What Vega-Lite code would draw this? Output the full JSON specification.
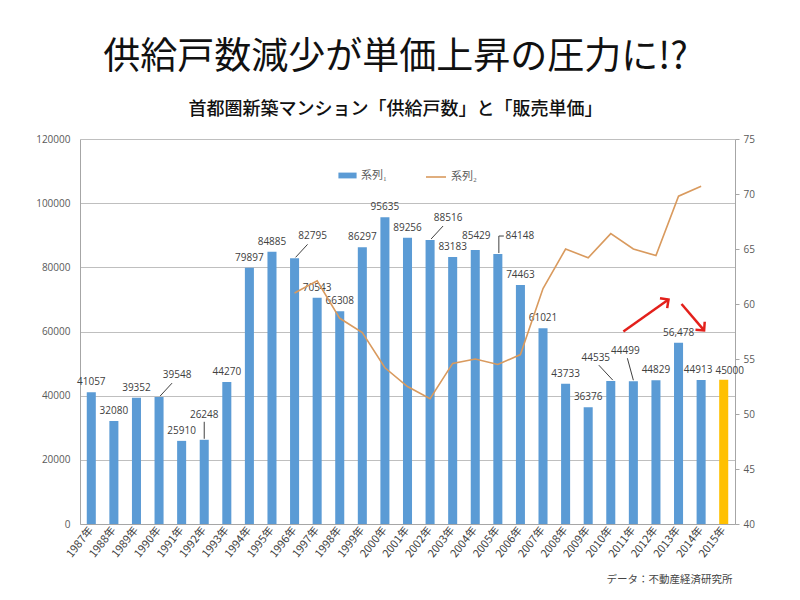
{
  "$schema": "https://vega.github.io/schema/vega-lite/v6.json",
  "width": 655,
  "height": 385,
  "autosize": "none",
  "padding": {"left": 80, "top": 139, "right": 65, "bottom": 76},
  "background": "white",
  "title": {
    "text": "供給戸数減少が単価上昇の圧力に!?",
    "subtitle": "首都圏新築マンション「供給戸数」と「販売単価」",
    "anchor": "middle",
    "frame": "group",
    "dx": -12,
    "offset": 14,
    "font": "Noto Sans CJK JP",
    "fontSize": 37,
    "fontWeight": "normal",
    "color": "#111111",
    "subtitleFont": "Noto Sans CJK JP",
    "subtitleFontSize": 18,
    "subtitleFontWeight": 500,
    "subtitleColor": "#111111",
    "subtitlePadding": 24
  },
  "config": {
    "view": {"stroke": null},
    "font": "Open Sans",
    "text": {"font": "Open Sans", "fontSize": 10, "color": "#404040"}
  },
  "datasets": {
    "supply": [
      {"year": "1987年", "units": 41057, "label": "41057", "price": null},
      {"year": "1988年", "units": 32080, "label": "32080", "price": null},
      {"year": "1989年", "units": 39352, "label": "39352", "price": null},
      {"year": "1990年", "units": 39548, "label": "39548", "price": null},
      {"year": "1991年", "units": 25910, "label": "25910", "price": null},
      {"year": "1992年", "units": 26248, "label": "26248", "price": null},
      {"year": "1993年", "units": 44270, "label": "44270", "price": null},
      {"year": "1994年", "units": 79897, "label": "79897", "price": null},
      {"year": "1995年", "units": 84885, "label": "84885", "price": null},
      {"year": "1996年", "units": 82795, "label": "82795", "price": 61.0},
      {"year": "1997年", "units": 70543, "label": "70543", "price": 62.1},
      {"year": "1998年", "units": 66308, "label": "66308", "price": 58.7},
      {"year": "1999年", "units": 86297, "label": "86297", "price": 57.4},
      {"year": "2000年", "units": 95635, "label": "95635", "price": 54.2},
      {"year": "2001年", "units": 89256, "label": "89256", "price": 52.5},
      {"year": "2002年", "units": 88516, "label": "88516", "price": 51.4},
      {"year": "2003年", "units": 83183, "label": "83183", "price": 54.6},
      {"year": "2004年", "units": 85429, "label": "85429", "price": 55.0},
      {"year": "2005年", "units": 84148, "label": "84148", "price": 54.5},
      {"year": "2006年", "units": 74463, "label": "74463", "price": 55.4},
      {"year": "2007年", "units": 61021, "label": "61021", "price": 61.4},
      {"year": "2008年", "units": 43733, "label": "43733", "price": 65.0},
      {"year": "2009年", "units": 36376, "label": "36376", "price": 64.2},
      {"year": "2010年", "units": 44535, "label": "44535", "price": 66.4},
      {"year": "2011年", "units": 44499, "label": "44499", "price": 65.0},
      {"year": "2012年", "units": 44829, "label": "44829", "price": 64.4},
      {"year": "2013年", "units": 56478, "label": "56,478", "price": 69.8},
      {"year": "2014年", "units": 44913, "label": "44913", "price": 70.7},
      {"year": "2015年", "units": 45000, "label": "45000", "price": null}
    ],
    "arrows": [
      {"name": "up", "year": "2011年", "price": 57.5, "toYear": "2013年", "toPrice": 60.4},
      {"name": "down", "year": "2013年", "price": 60.0, "toYear": "2014年", "toPrice": 57.6}
    ]
  },
  "layer": [
    {
      "data": {"name": "supply"},
      "encoding": {
        "x": {
          "field": "year",
          "type": "nominal",
          "scale": {"paddingInner": 0.6, "paddingOuter": 0.3},
          "axis": {
            "title": "データ：不動産経済研究所",
            "titleFont": "Noto Sans CJK JP",
            "titleFontSize": 10.5,
            "titleFontWeight": "normal",
            "titleColor": "#444444",
            "titleAnchor": "end",
            "titleAlign": "right",
            "titleBaseline": "middle",
            "titleX": 652,
            "titleY": 55,
            "labelAngle": -52,
            "labelAlign": "right",
            "labelBaseline": "middle",
            "labelFont": "Noto Sans CJK JP",
            "labelFontSize": 11,
            "labelColor": "#404040",
            "labelPadding": 4,
            "ticks": false,
            "domainColor": "#a6a6a6",
            "grid": false
          }
        },
        "y": {
          "field": "units",
          "type": "quantitative",
          "scale": {"domain": [0, 120000]},
          "axis": {
            "title": null,
            "values": [0, 20000, 40000, 60000, 80000, 100000, 120000],
            "format": "d",
            "labelFont": "Open Sans",
            "labelFontSize": 10,
            "labelColor": "#595959",
            "labelPadding": 10,
            "ticks": false,
            "domainColor": "#a6a6a6",
            "gridColor": "#bfbfbf",
            "grid": true
          }
        }
      },
      "layer": [
        {
          "mark": {"type": "bar"},
          "encoding": {
            "color": {
              "condition": {"test": "datum.year === '2015年'", "value": "#FFC000"},
              "datum": "系列₁",
              "scale": {"range": ["#5B9BD5"]},
              "legend": {
                "orient": "none",
                "legendX": 258,
                "legendY": 27,
                "title": null,
                "symbolType": "M-1,-0.32H1V0.32H-1Z",
                "symbolSize": 330,
                "symbolStrokeWidth": 0,
                "labelFont": "Noto Sans CJK JP",
                "labelFontSize": 11,
                "labelColor": "#595959"
              }
            }
          }
        },
        {
          "transform": [{"filter": {"not": {"field": "year", "oneOf": ["1990年", "1992年", "1996年", "2002年", "2004年", "2005年", "2010年", "2011年", "2014年", "2015年"]}}}],
          "mark": {"type": "text", "dy": -10, "baseline": "middle"},
          "encoding": {"text": {"field": "label"}}
        },
        {
          "transform": [{"filter": {"field": "year", "equal": "2004年"}}],
          "mark": {"type": "text", "dx": 1, "dy": -14, "baseline": "middle"},
          "encoding": {"text": {"field": "label"}}
        },
        {
          "transform": [{"filter": {"field": "year", "oneOf": ["1990年", "1996年", "2002年"]}}],
          "mark": {"type": "text", "dx": 18, "dy": -22, "baseline": "middle"},
          "encoding": {"text": {"field": "label"}}
        },
        {
          "transform": [{"filter": {"field": "year", "oneOf": ["1990年", "1996年", "2002年"]}}],
          "mark": {"type": "rule", "color": "#404040", "strokeWidth": 1, "xOffset": 1, "yOffset": -1, "x2Offset": 13, "y2Offset": -14},
          "encoding": {"x2": {"field": "year"}, "y2": {"field": "units"}}
        },
        {
          "transform": [{"filter": {"field": "year", "equal": "1992年"}}],
          "mark": {"type": "text", "dy": -25, "baseline": "middle"},
          "encoding": {"text": {"field": "label"}}
        },
        {
          "transform": [{"filter": {"field": "year", "equal": "1992年"}}],
          "mark": {"type": "rule", "color": "#404040", "strokeWidth": 1, "yOffset": -1, "y2Offset": -18},
          "encoding": {"y2": {"field": "units"}}
        },
        {
          "transform": [{"filter": {"field": "year", "equal": "2005年"}}],
          "mark": {"type": "text", "dx": 22, "dy": -18, "baseline": "middle"},
          "encoding": {"text": {"field": "label"}}
        },
        {
          "transform": [{"filter": {"field": "year", "equal": "2005年"}}],
          "mark": {"type": "rule", "color": "#404040", "strokeWidth": 1, "xOffset": 1, "yOffset": -1, "x2Offset": 1, "y2Offset": -18},
          "encoding": {"x2": {"field": "year"}, "y2": {"field": "units"}}
        },
        {
          "transform": [{"filter": {"field": "year", "equal": "2005年"}}],
          "mark": {"type": "rule", "color": "#404040", "strokeWidth": 1, "xOffset": 1, "yOffset": -18, "x2Offset": 6, "y2Offset": -18},
          "encoding": {"x2": {"field": "year"}, "y2": {"field": "units"}}
        },
        {
          "transform": [{"filter": {"field": "year", "equal": "2010年"}}],
          "mark": {"type": "text", "dx": -15, "dy": -23, "baseline": "middle"},
          "encoding": {"text": {"field": "label"}}
        },
        {
          "transform": [{"filter": {"field": "year", "equal": "2010年"}}],
          "mark": {"type": "rule", "color": "#404040", "strokeWidth": 1, "xOffset": 2, "yOffset": -1, "x2Offset": -12, "y2Offset": -16},
          "encoding": {"x2": {"field": "year"}, "y2": {"field": "units"}}
        },
        {
          "transform": [{"filter": {"field": "year", "equal": "2011年"}}],
          "mark": {"type": "text", "dx": -8, "dy": -30, "baseline": "middle"},
          "encoding": {"text": {"field": "label"}}
        },
        {
          "transform": [{"filter": {"field": "year", "equal": "2011年"}}],
          "mark": {"type": "rule", "color": "#404040", "strokeWidth": 1, "yOffset": -1, "x2Offset": -6, "y2Offset": -23},
          "encoding": {"x2": {"field": "year"}, "y2": {"field": "units"}}
        },
        {
          "transform": [{"filter": {"field": "year", "equal": "2014年"}}],
          "mark": {"type": "text", "dx": -3, "dy": -10, "baseline": "middle"},
          "encoding": {"text": {"field": "label"}}
        },
        {
          "transform": [{"filter": {"field": "year", "equal": "2015年"}}],
          "mark": {"type": "text", "dx": 6, "dy": -9, "baseline": "middle"},
          "encoding": {"text": {"field": "label"}}
        }
      ]
    },
    {
      "encoding": {
        "x": {"field": "year", "type": "nominal"},
        "y": {
          "field": "price",
          "type": "quantitative",
          "scale": {"domain": [40, 75], "zero": false},
          "axis": {
            "orient": "right",
            "title": null,
            "values": [40, 45, 50, 55, 60, 65, 70, 75],
            "labelFont": "Open Sans",
            "labelFontSize": 10,
            "labelColor": "#595959",
            "labelPadding": 4,
            "ticks": true,
            "tickSize": 4,
            "tickColor": "#a6a6a6",
            "domainColor": "#a6a6a6",
            "grid": false
          }
        }
      },
      "layer": [
        {
          "data": {"name": "supply"},
          "transform": [{"filter": "datum.price != null"}],
          "mark": {"type": "line", "strokeWidth": 1.6},
          "encoding": {
            "stroke": {
              "datum": "系列₂",
              "scale": {"range": ["#D99A5E"]},
              "legend": {
                "orient": "none",
                "legendX": 345,
                "legendY": 27,
                "title": null,
                "symbolType": "stroke",
                "symbolSize": 400,
                "symbolStrokeWidth": 1.6,
                "labelFont": "Noto Sans CJK JP",
                "labelFontSize": 11,
                "labelColor": "#595959"
              }
            }
          }
        },
        {
          "data": {"name": "arrows"},
          "transform": [{"filter": "datum.name === 'up'"}],
          "layer": [
            {
              "mark": {"type": "rule", "color": "#E3201B", "strokeWidth": 2.5, "xOffset": -10, "x2Offset": -10},
              "encoding": {"x2": {"field": "toYear"}, "y2": {"field": "toPrice"}}
            },
            {
              "mark": {"type": "point", "shape": "M-1,1L0,0L1,1", "filled": false, "stroke": "#E3201B", "strokeWidth": 2.5, "size": 150, "angle": 54, "xOffset": -10, "opacity": 1},
              "encoding": {"x": {"field": "toYear", "type": "nominal"}, "y": {"field": "toPrice", "type": "quantitative"}}
            }
          ]
        },
        {
          "data": {"name": "arrows"},
          "transform": [{"filter": "datum.name === 'down'"}],
          "layer": [
            {
              "mark": {"type": "rule", "color": "#E3201B", "strokeWidth": 2.5, "xOffset": 3, "x2Offset": 3},
              "encoding": {"x2": {"field": "toYear"}, "y2": {"field": "toPrice"}}
            },
            {
              "mark": {"type": "point", "shape": "M-1,1L0,0L1,1", "filled": false, "stroke": "#E3201B", "strokeWidth": 2.5, "size": 150, "angle": 139, "xOffset": 3, "opacity": 1},
              "encoding": {"x": {"field": "toYear", "type": "nominal"}, "y": {"field": "toPrice", "type": "quantitative"}}
            }
          ]
        }
      ]
    }
  ],
  "resolve": {"scale": {"y": "independent"}}
}
